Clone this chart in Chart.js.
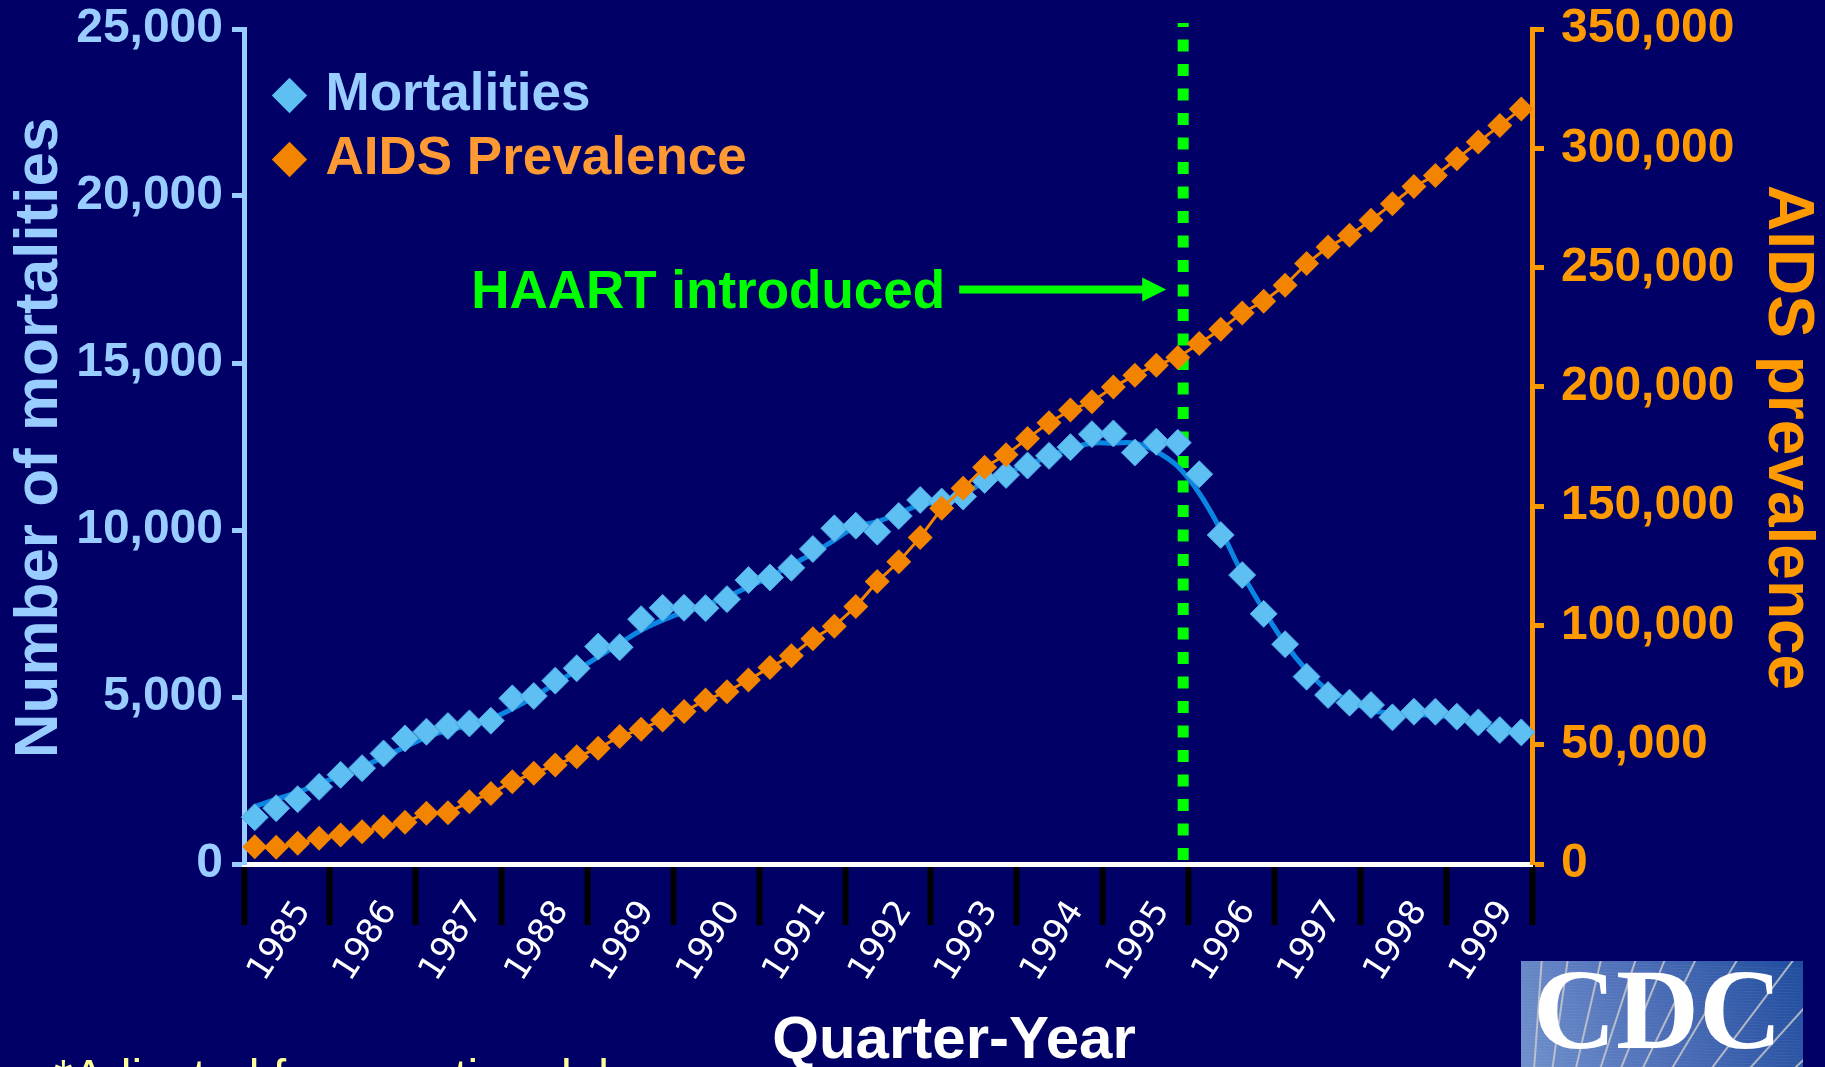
<!DOCTYPE html>
<html>
<head>
<meta charset="utf-8">
<title>Mortalities and AIDS prevalence</title>
<script src="https://cdn.jsdelivr.net/npm/chart.js@4.4.1/dist/chart.umd.min.js"></script>
<style>
  html, body { margin: 0; padding: 0; background: #000066; }
  canvas { display: block; }
</style>
</head>
<body>
<canvas id="chart" width="1825" height="1067"></canvas>
<script>
// data (one value per quarter, 1985 Q1 .. 1999 Q4)
const years = ['1985', '1986', '1987', '1988', '1989', '1990', '1991', '1992',
  '1993', '1994', '1995', '1996', '1997', '1998', '1999']
const quarters = ['Q1', 'Q2', 'Q3', 'Q4']

const mortalities = [1400, 1670, 1940, 2310, 2670, 2870, 3310, 3760, 3960, 4130,
  4210, 4290, 4960, 5030, 5490, 5860, 6510, 6490, 7330, 7670,
  7670, 7660, 7930, 8500, 8580, 8870, 9430, 10050, 10130, 9950,
  10420, 10900, 10850, 11000, 11500, 11650, 11930, 12220, 12480, 12870,
  12890, 12320, 12640, 12610, 11670, 9850, 8650, 7490, 6580, 5610,
  5060, 4830, 4760, 4390, 4560, 4560, 4410, 4240, 4010, 3940]

// smoothed trend line drawn through the mortality points
const mortalityTrend = [1720, 1940, 2150, 2400, 2650, 2900, 3200, 3500, 3800, 4000,
  4150, 4350, 4650, 5000, 5400, 5800, 6200, 6600, 7000, 7300,
  7550, 7750, 8000, 8300, 8600, 8950, 9300, 9700, 10100, 10250,
  10500, 10750, 10850, 11050, 11450, 11700, 11950, 12200, 12450, 12600,
  12600, 12600, 12350, 11900, 11100, 10000, 8700, 7600, 6600, 5800,
  5200, 4900, 4600, 4520, 4460, 4460, 4360, 4210, 4060, 3960]

const aidsPrevalence = [7250, 7000, 8700, 10800, 12200, 13500, 15600, 17500, 21300, 21500,
  26100, 29600, 34500, 38000, 41500, 45000, 48500, 53400, 56500, 60400,
  63900, 68700, 72200, 77100, 82400, 87300, 94400, 99700, 107900, 118400,
  126700, 136900, 149100, 157500, 166300, 171500, 178400, 185000, 190300, 193800,
  199900, 204900, 209100, 212300, 218200, 224100, 231000, 235900, 242600, 251700,
  258600, 263500, 269800, 276800, 284000, 288600, 295600, 302600, 309500, 316500]

const mortalityAxis = [0, 25000, 5000]      // min, max, step
const prevalenceAxis = [0, 350000, 50000]

const haartQuarter = 43.25   // 1995 Q4, on the quarter axis
const haartArrowLevel = 17200 // height of the arrow, left axis units

const quarterLabels = years.flatMap(y => quarters.map(q => `${y} ${q}`))

const NAVY = '#000066'
const SKY = '#99ccff'
const MORT = '#5ebff2'
const TREND = '#0a86e2'
const ORANGE = '#f28400'
const ORANGE_TXT = '#ff9900'
const GREEN = '#00ff00'
const SANS = '"Liberation Sans", Arial, sans-serif'

const background = {
  id: 'background',
  beforeDraw(chart) {
    const ctx = chart.ctx
    ctx.save()
    ctx.fillStyle = NAVY
    ctx.fillRect(0, 0, chart.width, chart.height)
    ctx.restore()
  }
}

// shift the in-chart legend to where the slide has it
const legendPlace = {
  id: 'legendPlace',
  afterLayout(chart) {
    const lg = chart.legend
    lg.left += 25; lg.right += 25
    lg.top += 58; lg.bottom += 58
  }
}

const haart = {
  id: 'haart',
  beforeDatasetsDraw(chart) {
    const { ctx, chartArea } = chart
    const lineX = chart.scales.x.getPixelForValue(haartQuarter)
    const ay = chart.scales.y.getPixelForValue(haartArrowLevel)
    ctx.save()
    // dotted marker
    ctx.strokeStyle = GREEN
    ctx.lineWidth = 11
    ctx.setLineDash([12, 12.5])
    ctx.lineDashOffset = 8
    ctx.beginPath()
    ctx.moveTo(lineX, chartArea.top - 6)
    ctx.lineTo(lineX, chartArea.bottom)
    ctx.stroke()
    ctx.setLineDash([])
    // arrow
    ctx.fillStyle = GREEN
    ctx.fillRect(lineX - 224, ay - 4, 185, 8)
    ctx.beginPath()
    ctx.moveTo(lineX - 41, ay - 12)
    ctx.lineTo(lineX - 17, ay)
    ctx.lineTo(lineX - 41, ay + 12)
    ctx.closePath()
    ctx.fill()
    // label
    ctx.font = `bold 53px ${SANS}`
    ctx.textAlign = 'right'
    ctx.textBaseline = 'alphabetic'
    ctx.fillText('HAART introduced', lineX - 238, ay + 18)
    ctx.restore()
  }
}

const decorations = {
  id: 'decorations',
  afterDraw(chart) {
    const ctx = chart.ctx
    ctx.save()
    // x axis title
    ctx.fillStyle = '#ffffff'
    ctx.font = `bold 60px ${SANS}`
    ctx.textAlign = 'center'
    ctx.fillText('Quarter-Year', 954, 1058)
    // footnote, cut by the slide edge
    ctx.fillStyle = '#ffff99'
    ctx.font = `48px ${SANS}`
    ctx.textAlign = 'left'
    ctx.fillText('*Adjusted for reporting delays', 54, 1093)
    // CDC logo
    const bx = 1521, by = 961, bw = 282, bh = 110
    const g = ctx.createLinearGradient(bx, by + bh, bx + bw, by)
    g.addColorStop(0, '#7090cc')
    g.addColorStop(0.5, '#4a6cb6')
    g.addColorStop(1, '#1f4c9e')
    ctx.fillStyle = g
    ctx.fillRect(bx, by, bw, bh)
    ctx.beginPath()
    ctx.rect(bx, by, bw, bh)
    ctx.clip()
    ctx.strokeStyle = 'rgba(255,255,255,0.06)'
    ctx.lineWidth = 1
    for (let yy = by; yy < by + bh; yy += 3) {
      ctx.beginPath(); ctx.moveTo(bx, yy); ctx.lineTo(bx + bw, yy + 8); ctx.stroke()
    }
    ctx.strokeStyle = 'rgba(205,205,205,0.8)'
    ctx.lineWidth = 2
    const ox = 1516, oy = 1328
    ;[4, 8, 13, 18, 22, 26, 31, 37, 42, 47, 52, 58].forEach(a => {
      const r = a * Math.PI / 180
      ctx.beginPath()
      ctx.moveTo(ox, oy)
      ctx.lineTo(ox + Math.sin(r) * 600, oy - Math.cos(r) * 600)
      ctx.stroke()
    })
    ctx.fillStyle = '#ffffff'
    ctx.font = 'bold 115px "Liberation Serif", serif'
    ctx.textAlign = 'left'
    ctx.fillText('CDC', 1533, 1048)
    ctx.restore()
  }
}

// keep the plot box where the slide has it (no extra room for tick labels)
const noLabelPadding = s => { s.paddingTop = 0; s.paddingBottom = 0 }

const ctx = document.getElementById('chart').getContext('2d')
new Chart(ctx, {
  type: 'line',
  data: {
    labels: quarterLabels,
    datasets: [{
      label: 'AIDS Prevalence',
      data: aidsPrevalence,
      yAxisID: 'y1',
      xAxisID: 'x',
      order: 0,
      borderColor: ORANGE,
      borderWidth: 3,
      backgroundColor: ORANGE,
      pointStyle: 'rectRot',
      pointRadius: 12.5,
      pointBorderWidth: 0,
      tension: 0
    }, {
      label: 'Mortalities',
      data: mortalities,
      yAxisID: 'y',
      xAxisID: 'x',
      order: 1,
      showLine: false,
      backgroundColor: MORT,
      borderColor: '#4aa6e0',
      pointStyle: 'rectRot',
      pointRadius: 13.5,
      pointBorderWidth: 1
    }, {
      label: 'trend',
      data: mortalityTrend,
      yAxisID: 'y',
      xAxisID: 'x',
      order: 2,
      borderColor: TREND,
      borderWidth: 5,
      pointRadius: 0,
      tension: 0.4
    }]
  },
  options: {
    responsive: false,
    animation: false,
    devicePixelRatio: 1,
    layout: { padding: { top: 29, left: 0, right: 0, bottom: 0 } },
    plugins: {
      tooltip: { enabled: false },
      legend: {
        position: 'chartArea',
        align: 'start',
        labels: {
          usePointStyle: true,
          boxWidth: 19,
          boxHeight: 25,
          padding: 11,
          font: { family: SANS, size: 53, weight: 'bold' },
          generateLabels: () => [
            { text: 'Mortalities', fillStyle: MORT, strokeStyle: MORT, lineWidth: 0,
              pointStyle: 'rectRot', fontColor: SKY, hidden: false, datasetIndex: 1 },
            { text: 'AIDS Prevalence', fillStyle: ORANGE, strokeStyle: ORANGE, lineWidth: 0,
              pointStyle: 'rectRot', fontColor: '#ff9933', hidden: false, datasetIndex: 0 }
          ]
        }
      }
    },
    scales: {
      x: {
        type: 'category',
        offset: true,
        display: false
      },
      xYear: {
        type: 'category',
        position: 'bottom',
        labels: years,
        offset: true,
        grid: {
          offset: true,
          drawOnChartArea: false,
          tickLength: 61,
          tickWidth: 6,
          tickColor: '#000000',
          color: '#000000'
        },
        border: { display: true, color: '#ffffff', width: 5 },
        ticks: {
          color: '#ffffff',
          font: { family: '"DejaVu Sans", sans-serif', size: 34 },
          autoSkip: false,
          minRotation: 57,
          maxRotation: 57,
          padding: -31,
          labelOffset: 17
        },
        afterFit: s => { s.height = 203 }
      },
      y: {
        position: 'left',
        min: mortalityAxis[0],
        max: mortalityAxis[1],
        ticks: {
          stepSize: mortalityAxis[2],
          color: SKY,
          padding: 9,
          font: { family: SANS, size: 48, weight: 'bold' },
          callback: v => v.toLocaleString('en-US')
        },
        grid: { drawOnChartArea: false, tickLength: 12, tickWidth: 5, tickColor: SKY, color: SKY },
        border: { display: true, color: SKY, width: 5 },
        title: {
          display: true,
          text: ' Number of mortalities',
          color: SKY,
          font: { family: SANS, size: 62, weight: 'bold' },
          padding: { top: 3, bottom: 0 }
        },
        afterFit: s => { s.width = 244; noLabelPadding(s) }
      },
      y1: {
        position: 'right',
        min: prevalenceAxis[0],
        max: prevalenceAxis[1],
        ticks: {
          stepSize: prevalenceAxis[2],
          color: ORANGE_TXT,
          padding: 17,
          font: { family: SANS, size: 48, weight: 'bold' },
          callback: v => v.toLocaleString('en-US')
        },
        grid: { drawOnChartArea: false, tickLength: 12, tickWidth: 5, tickColor: ORANGE_TXT, color: ORANGE_TXT },
        border: { display: true, color: ORANGE_TXT, width: 5 },
        title: {
          display: true,
          text: 'AIDS prevalence ',
          color: ORANGE_TXT,
          font: { family: SANS, size: 64, weight: 'bold' },
          padding: { top: 0, bottom: 0 }
        },
        afterFit: s => { s.width = 293; noLabelPadding(s) }
      }
    }
  },
  plugins: [background, legendPlace, haart, decorations]
})
</script>
</body>
</html>
